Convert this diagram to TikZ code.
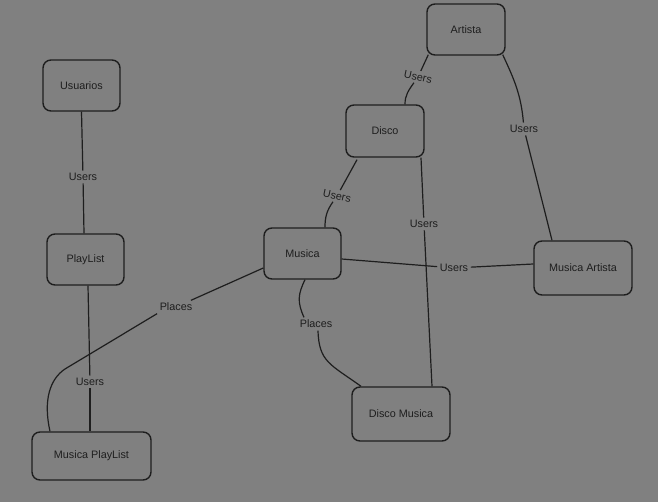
\documentclass[tikz,border=0pt]{standalone}
\usepackage{fontspec}
\setmainfont{Liberation Sans}
\begin{document}
\begin{tikzpicture}[x=1pt,y=-1pt,
  entity/.style={draw=ink, line width=1.4pt, rounded corners=8pt, inner sep=0pt,
    font=\fontsize{10.8}{12}\selectfont, text=ink},
  rel/.style={font=\fontsize{10.8}{12}\selectfont, text=ink, inner sep=2.5pt},
  link/.style={draw=ink, line width=1.2pt}]
\definecolor{bg}{HTML}{808080}
\definecolor{ink}{HTML}{1E1E1E}
\fill[bg] (0,0) rectangle (658,502);
\useasboundingbox (0,0) rectangle (658,502);

% entities
\node[entity, minimum width=78pt, minimum height=51pt] (artista) at (466,29.5) {Artista};
\node[entity, minimum width=77pt, minimum height=51pt] (usuarios) at (81.5,85.5) {Usuarios};
\node[entity, minimum width=78pt, minimum height=52pt] (disco) at (385,131) {Disco};
\node[entity, minimum width=77pt, minimum height=51pt] (playlist) at (85.5,259.5) {PlayList};
\node[entity, minimum width=77pt, minimum height=51pt] (musica) at (302.5,253.5) {Musica};
\node[entity, minimum width=98pt, minimum height=54pt] (musart) at (583,268) {Musica Artista};
\node[entity, minimum width=98pt, minimum height=54pt] (discmus) at (401,414) {Disco Musica};
\node[entity, minimum width=119pt, minimum height=48pt] (muspl) at (91.5,456) {Musica PlayList};

% relationship labels
\node[rel, rotate=-12] (r1) at (418,77) {Users};
\node[rel] (r2) at (524,129) {Users};
\node[rel, rotate=-12] (r3) at (337,196) {Users};
\node[rel] (r4) at (424,224) {Users};
\node[rel] (r5) at (454,268) {Users};
\node[rel] (r6) at (176,307) {Places};
\node[rel] (r7) at (316,324) {Places};
\node[rel] (r8) at (90,382) {Users};
\node[rel] (r9) at (83,177) {Users};
\coordinate (bend) at (65,369);

% Artista -- Disco
\draw[link] ([xshift=2pt,yshift=1pt]artista.south west) -- (r1);
\draw[link] (r1) to[out=-120,in=90] ([xshift=20pt]disco.north);
% Artista -- Musica Artista
\draw[link] ([xshift=-3pt,yshift=1pt]artista.south east) to[out=-65,in=95] (r2);
\draw[link] (r2) -- ([xshift=-31pt]musart.north);
% Disco -- Musica
\draw[link] ([xshift=-28pt,yshift=-2pt]disco.south) -- (r3);
\draw[link] (r3) to[out=-120,in=90] ([xshift=22.5pt]musica.north);
% Disco -- Disco Musica
\draw[link] ([xshift=36pt]disco.south) -- (r4);
\draw[link] (r4) -- ([xshift=31pt]discmus.north);
% Musica -- Musica Artista
\draw[link] ([yshift=-5.5pt]musica.east) -- (r5);
\draw[link] (r5) -- ([yshift=4pt]musart.west);
% Musica -- Musica PlayList
\draw[link] ([yshift=-14.5pt]musica.west) -- (r6);
\draw[link] (r6.south west) -- (bend) .. controls (50,379) and (43,400) .. ([xshift=-41.5pt]muspl.north);
% Musica -- Disco Musica
\draw[link] ([xshift=2.5pt]musica.south) .. controls (298,294) and (297,302) .. ([xshift=-12pt]r7.north);
\draw[link] ([xshift=2pt]r7.south) .. controls (319,362) and (330,364) .. ([xshift=-40pt]discmus.north);
% PlayList -- Musica PlayList
\draw[link] ([xshift=2.5pt]playlist.south) -- (r8);
\draw[link] (r8) -- ([xshift=-1.5pt]muspl.north);
% Usuarios -- PlayList
\draw[link] (usuarios.south) -- (r9);
\draw[link] (r9) -- ([xshift=-1.5pt]playlist.north);
\end{tikzpicture}
\end{document}
